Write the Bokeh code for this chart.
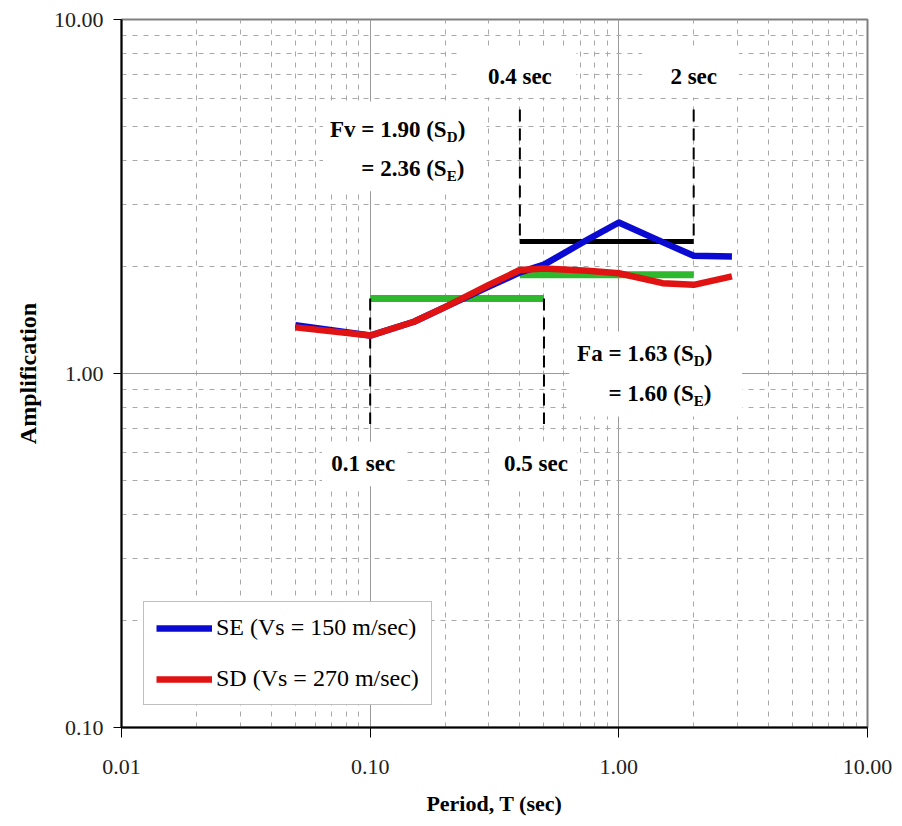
from bokeh.plotting import figure
from bokeh.models import (Range1d, FixedTicker, NumeralTickFormatter, Label,
                          BoxAnnotation, Legend, LegendItem)
from bokeh.embed import file_html
from bokeh.resources import INLINE

# ---------------- data ----------------
period = [0.05, 0.1, 0.15, 0.2, 0.3, 0.4, 0.5, 0.75, 1.0, 1.5, 2.0, 2.85]
amp_se = [1.37, 1.28, 1.40, 1.54, 1.76, 1.93, 2.03, 2.39, 2.67, 2.35, 2.15, 2.14]
amp_sd = [1.35, 1.28, 1.40, 1.54, 1.78, 1.96, 1.98, 1.95, 1.92, 1.80, 1.78, 1.88]

fa_period = [0.1, 0.5]     # short-period range
fv_period = [0.4, 2.0]     # long-period range
fa_sd, fa_se = 1.63, 1.60
fv_sd, fv_se = 1.90, 2.36

x_ticks = [0.01, 0.1, 1.0, 10.0]
y_ticks = [0.1, 1.0, 10.0]
x_minor = [m * d for d in [0.01, 0.1, 1.0] for m in range(2, 10)]
y_minor = [m * d for d in [0.1, 1.0] for m in range(2, 10)]

FONT = "Liberation Serif"

# ---------------- figure ----------------
p = figure(width=894, height=818, x_axis_type="log", y_axis_type="log",
           x_range=Range1d(0.01, 10), y_range=Range1d(0.1, 10),
           output_backend="svg", toolbar_location=None,
           min_border_left=121, min_border_right=27,
           min_border_top=19, min_border_bottom=91)
p.background_fill_color = "white"
p.border_fill_color = "white"
p.outline_line_color = "#808080"
p.outline_line_width = 2

xt = FixedTicker(ticks=x_ticks, minor_ticks=x_minor)
yt = FixedTicker(ticks=y_ticks, minor_ticks=y_minor)
p.xaxis.ticker = xt
p.yaxis.ticker = yt
p.xgrid.ticker = xt
p.ygrid.ticker = yt
p.xaxis.formatter = NumeralTickFormatter(format="0.00")
p.yaxis.formatter = NumeralTickFormatter(format="0.00")

for g in (p.xgrid, p.ygrid):
    g.grid_line_color = "#9a9a9a"
    g.grid_line_width = 1
    g.minor_grid_line_color = "#a8a8a8"
    g.minor_grid_line_width = 1
    g.minor_grid_line_dash = "5 6"

for ax in (p.xaxis, p.yaxis):
    ax.axis_line_color = "black"
    ax.axis_line_width = 2
    ax.major_tick_line_color = "black"
    ax.major_tick_line_width = 1
    ax.major_tick_in = 0
    ax.minor_tick_line_color = None
    ax.major_label_text_font = FONT
    ax.major_label_text_font_size = "22px"
    ax.major_label_text_color = "#222222"
    ax.axis_label_text_font = FONT
    ax.axis_label_text_font_style = "bold"
    ax.axis_label_text_color = "black"

p.xaxis.axis_label = "Period, T (sec)"
p.yaxis.axis_label = "Amplification"
p.xaxis.axis_label_text_font_size = "22px"
p.yaxis.axis_label_text_font_size = "24px"
p.xaxis.major_tick_out = 10
p.xaxis.major_label_standoff = 22
p.xaxis.axis_label_standoff = 14
p.yaxis.major_tick_out = 8
p.yaxis.major_label_standoff = 10
p.yaxis.axis_label_standoff = 10

# ---------------- factor lines ----------------
p.line(fa_period, [fa_sd, fa_sd], line_color="#2db82d", line_width=7)
p.line(fv_period, [fv_se, fv_se], line_color="black", line_width=5)
p.line(fv_period, [fv_sd, fv_sd], line_color="#2db82d", line_width=7)

# dashed verticals
fv_top = 5.57
fa_bottom = 0.72
p.segment(x0=fv_period, y0=[fv_top, fv_top], x1=fv_period, y1=[fv_se, fv_se],
          line_color="black", line_width=2, line_dash="12 7")
p.segment(x0=fa_period, y0=[fa_sd, fa_sd], x1=fa_period, y1=[fa_bottom, fa_bottom],
          line_color="black", line_width=2, line_dash="12 7")

# ---------------- curves ----------------
r_se = p.line(period, amp_se, line_color="#0a0ad2", line_width=6.5, line_join="round")
r_sd = p.line(period, amp_sd, line_color="#e01212", line_width=6.5, line_join="round")

# ---------------- white label boxes ----------------
boxes = [
    (0.233, 0.675, 8.23, 6.02),   # 0.4 sec
    (1.24, 3.04, 8.23, 6.02),     # 2 sec
    (0.0646, 0.294, 5.87, 3.27),  # Fv
    (0.632, 3.13, 1.314, 0.756),  # Fa
    (0.064, 0.138, 0.642, 0.480), # 0.1 sec
    (0.316, 0.681, 0.642, 0.480), # 0.5 sec
]
for l, r, t, b in boxes:
    p.add_layout(BoxAnnotation(left=l, right=r, top=t, bottom=b,
                               fill_color="white", fill_alpha=1.0,
                               line_color=None))

def lab(x, y, text, size="23px", align="center", xo=0, yo=0):
    p.add_layout(Label(x=x, y=y, text=text, x_offset=xo, y_offset=yo,
                       text_font=FONT, text_font_size=size,
                       text_font_style="bold", text_align=align,
                       text_baseline="middle", text_color="black"))

top_y = 6.90
low_y = 0.558
lab(fv_period[0], top_y, f"{fv_period[0]:g} sec")
lab(fv_period[1], top_y, f"{fv_period[1]:g} sec")
lab(fa_period[0], low_y, f"{fa_period[0]:g} sec", xo=-7)
lab(fa_period[1], low_y, f"{fa_period[1]:g} sec", xo=-8)

def factor_label(x, y, prefix, val, sub, sub_w):
    lab(x, y, f"{prefix}{val:.2f} (S", align="right")
    lab(x, y, sub, size="15px", align="left", yo=-8)
    lab(x, y, ")", align="left", xo=sub_w)

factor_label(0.203, 4.89, "Fv = ", fv_sd, "D", 11)
factor_label(0.203, 3.80, "= ", fv_se, "E", 10)
factor_label(2.0, 1.141, "Fa = ", fa_sd, "D", 11)
factor_label(2.0, 0.880, "= ", fa_se, "E", 10)

# ---------------- legend ----------------
legend = Legend(items=[LegendItem(label="SE (Vs = 150 m/sec)", renderers=[r_se]),
                       LegendItem(label="SD (Vs = 270 m/sec)", renderers=[r_sd])],
                location=(22, 22))
legend.label_text_font = FONT
legend.label_text_font_size = "24px"
legend.label_text_color = "black"
legend.glyph_width = 56
legend.glyph_height = 24
legend.label_standoff = 4
legend.padding = 12
legend.spacing = 24
legend.margin = 0
legend.border_line_color = "#808080"
legend.border_line_width = 1.5
legend.background_fill_color = "white"
legend.background_fill_alpha = 1.0
p.add_layout(legend)

open("out.html", "w").write(file_html(p, INLINE))
